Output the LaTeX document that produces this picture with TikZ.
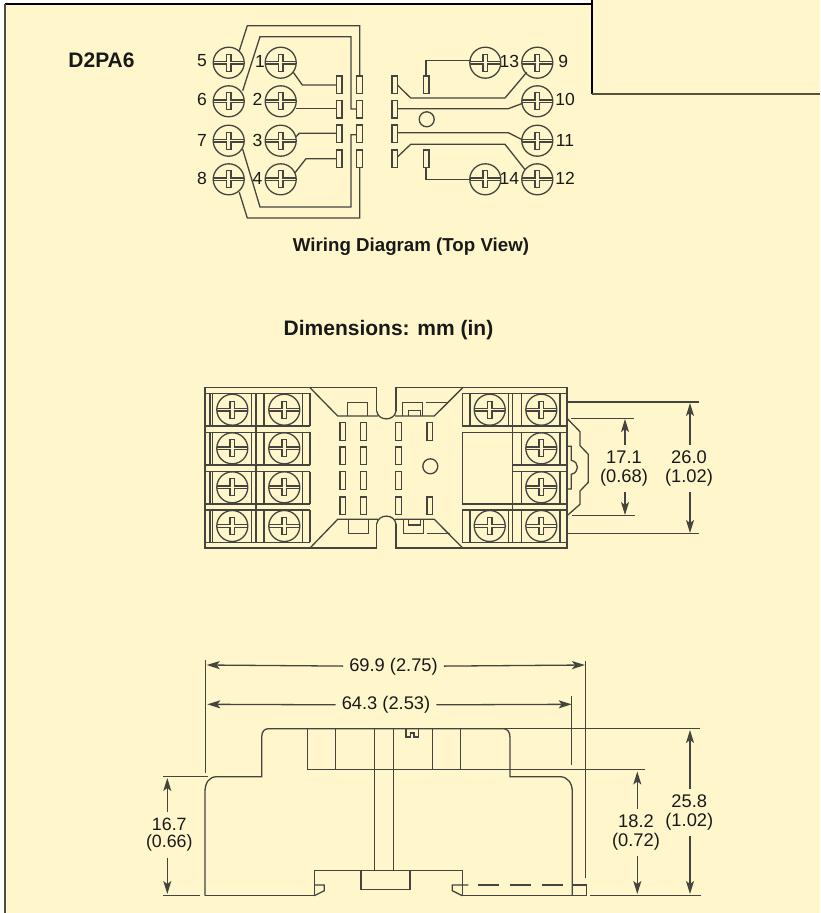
\documentclass[tikz,border=0pt]{standalone}
\usepackage{fontspec}
\setmainfont{Liberation Sans}
\usetikzlibrary{arrows.meta,calc,positioning}
\definecolor{panel}{HTML}{FFF7CB}
\definecolor{inkline}{HTML}{45453F}
\definecolor{boxline}{HTML}{55533A}
\tikzset{
  part/.style={draw=inkline,line width=1.3pt},
  dimline/.style={draw=inkline,line width=1.3pt,-{Stealth[length=13pt,width=8pt,inset=3pt]}},
  title/.style={inner sep=0pt,font=\bfseries\fontsize{18.7}{20}\selectfont,text=black!90},
  pinlabel/.style={inner sep=0pt,font=\fontsize{17.5}{20}\selectfont,text=black!90},
  dimlabel/.style={inner sep=6pt,align=center,font=\fontsize{18.3}{18.5}\selectfont,text=black!90},
  screw/.pic={
    \draw[part] (0,0) circle (15.5);
    \draw[part] (-15.5,-1.2) -- (-2.3,-1.2) -- (-2.3,-8.5) -- (2.3,-8.5) -- (2.3,-1.2) -- (15.5,-1.2);
    \draw[part] (-15.5,1.2) -- (-2.3,1.2) -- (-2.3,8.5) -- (2.3,8.5) -- (2.3,1.2) -- (15.5,1.2);
  }
}
\begin{document}
\begin{tikzpicture}[x=1pt,y=-1pt]
    \useasboundingbox (0,0) rectangle (820,913);

    % draw panel
    \fill[white] (0,0) rectangle (820,913);
    \fill[panel] (5,4) rectangle (820,913);
    \fill[panel] (592,0) rectangle (820,94);
    \draw[black,line width=1.2pt] (5,4) -- (592,4);
    \draw[black!70,line width=1.6pt] (5,4) -- (5,913);
    \draw[black,line width=1.1pt] (592,0) -- (592,94);
    \draw[boxline,line width=1.6pt] (592,94) -- (820,94);

    \node[title,font=\bfseries\fontsize{21}{22}\selectfont] (type_label) at (101.5,60) {D2PA6};
    \node[title] (wiring_label) at (411,247) {Wiring Diagram (Top View)};
    \node[title,font=\bfseries\fontsize{21}{22}\selectfont] (dim_label) at (388.5,330) {Dimensions: mm (in)};

    % wiring diagram, screws
    \foreach \x/\y in {228.7/62.7,228.7/101.3,228.7/140.7,228.7/179.3,
                       280.7/62.7,280.7/101.3,280.7/140.7,280.7/179.3,
                       485.3/62.7,485.3/179.3,
                       537.3/62.7,537.3/101.3,537.3/140.7,537.3/179.3}
      \pic at (\x,\y) {screw};

    \foreach \name/\x/\y/\txt in {p5/202/61/5,p6/202/99.5/6,p7/202/140/7,p8/202/178.5/8,
                                  p1/260/61/1,p2/257.5/99.5/2,p3/257.5/140/3,p4/257.5/178.5/4,
                                  p13/509.3/61/13,p14/509.3/178.5/14,
                                  p9/563.3/61/9,p10/565/99.5/10,p11/565/140/11,p12/565/178.5/12}
      \node[pinlabel] (\name) at (\x,\y) {\txt};

    % wiring diagram, blades
    \foreach \y in {76,100.3,125,150} {
      \draw[part] (336.3,\y) rectangle ++(5.7,17.7);
      \draw[part] (356.7,\y) rectangle ++(5.7,17.7);
      \draw[part] (392,\y) rectangle ++(5.7,17.7);
    }
    \draw[part] (423.3,76) rectangle ++(5.7,17.7);
    \draw[part] (423.3,150) rectangle ++(5.7,17.7);
    \draw[part] (426.7,119.3) circle (7.5);

    % wiring diagram, wires
    \draw[part] (239.3,50.7) -- (247.3,25.7) -- (359.7,25.7) -- (359.7,76);
    \draw[part] (242.7,90.7) -- (260,36.7) -- (351,36.7) -- (351,109) -- (356.7,109);
    \draw[part] (242.7,149.3) -- (260,207) -- (351,207) -- (351,134.7) -- (356.7,134.7);
    \draw[part] (239.3,192.3) -- (247.3,218) -- (359.7,218) -- (359.7,167.7);
    \draw[part] (293.3,72.3) -- (302.3,85) -- (336.3,85);
    \draw[part] (296,108.3) -- (336.3,108.3);
    \draw[part] (296,136.7) -- (299.3,133.3) -- (336.3,133.3);
    \draw[part] (295,172.7) -- (306,158.7) -- (336.3,158.7);
    \draw[part] (426,76) -- (426,60.7) -- (470.7,60.7);
    \draw[part] (426,167.7) -- (426,179.7) -- (470.7,179.7);
    \draw[part] (397.7,85.3) -- (410.7,98) -- (505,98) -- (526.7,72.3);
    \draw[part] (397.7,108.7) -- (508.3,108.7) -- (522.7,103.3);
    \draw[part] (397.7,132.7) -- (508.3,132.7) -- (522.7,140);
    \draw[part] (397.7,156.7) -- (410.7,144.3) -- (505,144.3) -- (525.3,170);

    % top view, left terminals
    \foreach \y/\h in {393.3/426,432.3/465,471.7/504,510/542.3} {
      \draw[part] (205,\y) -- (310,\y);
      \draw[part] (205,\h) -- (310,\h);
      \foreach \x in {210,212.3,251.3,264,302.7,310}
        \draw[part] (\x,\y) -- (\x,\h);
    }
    \draw[part] (256,393.3) -- (256,542.3);
    \foreach \y in {409.7,448.3,487.3,526} {
      \pic at (232.3,\y) {screw};
      \pic at (284.3,\y) {screw};
    }

    % top view, outline
    \draw[part] (376.7,411) -- (376.7,387.7) -- (205,387.7) -- (205,548) -- (376.7,548) -- (376.7,524);
    \draw[part] (396,411) -- (396,387.7) -- (567,387.7) -- (567,548) -- (396,548) -- (396,524);
    \draw[part] (376.7,411) .. controls (378,421.5) and (394.7,421.5) .. (396,411);
    \draw[part] (376.7,524) .. controls (378,513.5) and (394.7,513.5) .. (396,524);
    \draw[part] (310,387.7) -- (337.7,416) -- (378,416);
    \draw[part] (310,548) -- (337.7,519.3) -- (378,519.3);
    \draw[part] (395,416) -- (434.3,416) -- (462.7,387.7);
    \draw[part] (395,519.3) -- (434.3,519.3) -- (462.7,548);
    \draw[part] (347.7,416) -- (347.7,402.3) -- (367.7,402.3) -- (367.7,416);
    \draw[part] (348.3,519.3) -- (348.3,533.7) -- (368.3,533.7) -- (368.3,519.3);
    \draw[part] (402.7,416) -- (402.7,402.3) -- (422.3,402.3) -- (422.3,416);
    \draw[part] (408.3,416) -- (408.3,410.7) -- (420.7,410.7) -- (420.7,416);
    \draw[part] (403.3,519.3) -- (403.3,533.7) -- (423.3,533.7) -- (423.3,519.3);
    \draw[part] (408.3,519.3) -- (408.3,525) -- (420.7,525) -- (420.7,519.3);
    \draw[part] (426,402.3) -- (448,402.3);
    \draw[part] (426.7,533.7) -- (450,533.7);

    % top view, blades
    \foreach \y in {422.7,447,471.7,497} {
      \draw[part] (340,\y) rectangle ++(5.7,17.7);
      \draw[part] (360.7,\y) rectangle ++(5.7,17.7);
      \draw[part] (395.7,\y) rectangle ++(5.7,17.7);
    }
    \draw[part] (427,422.7) rectangle ++(5.7,17.7);
    \draw[part] (427,497) rectangle ++(5.7,17.7);
    \draw[part] (430.3,466.3) circle (7.5);

    % top view, right terminals
    \draw[part] (462.3,393.3) rectangle (567,426);
    \draw[part] (462.3,510) rectangle (567,542.3);
    \draw[part] (462.3,432.3) rectangle (512.7,504);
    \draw[part] (512.7,432.3) -- (567,432.3);
    \draw[part] (512.7,465) -- (567,465);
    \draw[part] (512.7,471.7) -- (567,471.7);
    \draw[part] (512.7,504) -- (567,504);
    \draw[part] (512.7,393.3) -- (512.7,542.3);
    \foreach \y/\h in {393.3/426,510/542.3}
      \foreach \x in {470,508.3,521.7,560}
        \draw[part] (\x,\y) -- (\x,\h);
    \foreach \y/\h in {432.3/465,471.7/504}
      \foreach \x in {521.7,560}
        \draw[part] (\x,\y) -- (\x,\h);
    \pic at (489.7,409.7) {screw};
    \pic at (489.7,526) {screw};
    \foreach \y in {409.7,448.3,487.3,526}
      \pic at (541.3,\y) {screw};

    % top view, clip
    \draw[part] (567,418.3) -- (580,431.7) -- (580,445.7) -- (588.3,454.3) -- (588.3,482.3) -- (580,491) -- (580,504.3) -- (567,515.7);
    \draw[part] (567,446.3) -- (571.3,446.3) -- (571.3,460.3) .. controls (579.5,462) and (579.5,472.5) .. (571.3,474.3) -- (571.3,489) -- (567,489);

    % top view, dimensions
    \draw[part] (567,402) -- (698.7,402);
    \draw[part] (567,533.7) -- (698.7,533.7);
    \draw[part] (571,418.3) -- (634.3,418.3);
    \draw[part] (572.3,515.7) -- (635,515.7);
    \coordinate (d171_top) at (625,419);
    \coordinate (d171_bot) at (625,515);
    \coordinate (d260_top) at (690,403);
    \coordinate (d260_bot) at (690,533);
    \node[dimlabel] (d171_label) at (624,468.5) {17.1\\(0.68)};
    \node[dimlabel] (d260_label) at (689,468.5) {26.0\\(1.02)};
    \draw[dimline] (d171_label.north -| d171_top) -- (d171_top);
    \draw[dimline] (d171_label.south -| d171_bot) -- (d171_bot);
    \draw[dimline] (d260_label.north -| d260_top) -- (d260_top);
    \draw[dimline] (d260_label.south -| d260_bot) -- (d260_bot);

    % side view, body
    \draw[part] (205,895.7) -- (205,791.7) .. controls (205,783) and (209,776.7) .. (216.7,776.7) -- (261.7,776.7) -- (261.7,737.3)
      .. controls (261.7,732) and (264,728.7) .. (268.3,728.7) -- (503.3,728.7)
      .. controls (507.5,728.7) and (510,732) .. (510,737.3) -- (510,776.7) -- (560,776.7)
      .. controls (567.5,776.7) and (572.3,783) .. (572.3,791.7) -- (572.3,895.7);
    \draw[part] (205,895.7) -- (314.3,895.7) -- (314.3,870.7) -- (462.3,870.7) -- (462.3,895.7) -- (586.3,895.7) -- (586.3,885) -- (572.3,885);
    \draw[part] (314.3,895.7) -- (324.3,890.7) -- (324.3,885) -- (314.3,885);
    \draw[part] (462.3,895.7) -- (452.3,890.7) -- (452.3,885) -- (468.3,885);
    \draw[part,dash pattern=on 21pt off 11pt] (478.3,885) -- (563.3,885);
    \draw[part] (307.7,769.7) -- (645,769.7);
    \foreach \x in {307.7,335.7,432.7,460.3}
      \draw[part] (\x,728.7) -- (\x,769.7);
    \foreach \x in {374.3,393.7}
      \draw[part] (\x,728.7) -- (\x,870.7);
    \draw[part] (406,728.7) -- (406,737) -- (410.7,737) -- (410.7,733) -- (414,733) -- (414,737) -- (418.3,737) -- (418.3,728.7);
    \draw[part] (361,870.7) -- (361,889.3) -- (410,889.3) -- (410,870.7);

    % side view, dimensions
    \draw[part] (205.4,660) -- (205.4,772.7);
    \draw[part] (585.7,661) -- (585.7,878.3);
    \draw[part] (571.7,696) -- (571.7,765);
    \draw[part] (503.3,728.7) -- (700,728.7);
    \draw[part] (590,895.7) -- (700.7,895.7);
    \draw[part] (162.7,776.7) -- (208.3,776.7);
    \draw[part] (163.3,895.7) -- (200,895.7);

    \coordinate (d699_left) at (206.7,665);
    \coordinate (d699_right) at (585,665);
    \coordinate (d643_left) at (207.3,704.3);
    \coordinate (d643_right) at (571.7,704.3);
    \coordinate (d167_top) at (167.3,778);
    \coordinate (d167_bot) at (167.3,894);
    \coordinate (d182_top) at (637.3,771.5);
    \coordinate (d182_bot) at (637.3,894);
    \coordinate (d258_top) at (690,730);
    \coordinate (d258_bot) at (690,894);

    \node[dimlabel] (d699_label) at (393.5,666.5) {69.9 (2.75)};
    \node[dimlabel] (d643_label) at (386,705) {64.3 (2.53)};
    \node[dimlabel,font=\fontsize{17.8}{17.5}\selectfont] (d167_label) at (169.3,834.5) {16.7\\(0.66)};
    \node[dimlabel] (d182_label) at (636,832.5) {18.2\\(0.72)};
    \node[dimlabel] (d258_label) at (689.3,812.5) {25.8\\(1.02)};

    \draw[dimline] (d699_label) -- (d699_left);
    \draw[dimline] (d699_label) -- (d699_right);
    \draw[dimline] (d643_label) -- (d643_left);
    \draw[dimline] (d643_label) -- (d643_right);
    \draw[dimline] (d167_label.north -| d167_top) -- (d167_top);
    \draw[dimline] (d167_label.south -| d167_bot) -- (d167_bot);
    \draw[dimline] (d182_label.north -| d182_top) -- (d182_top);
    \draw[dimline] (d182_label.south -| d182_bot) -- (d182_bot);
    \draw[dimline] (d258_label.north -| d258_top) -- (d258_top);
    \draw[dimline] (d258_label.south -| d258_bot) -- (d258_bot);
\end{tikzpicture}
\end{document}
